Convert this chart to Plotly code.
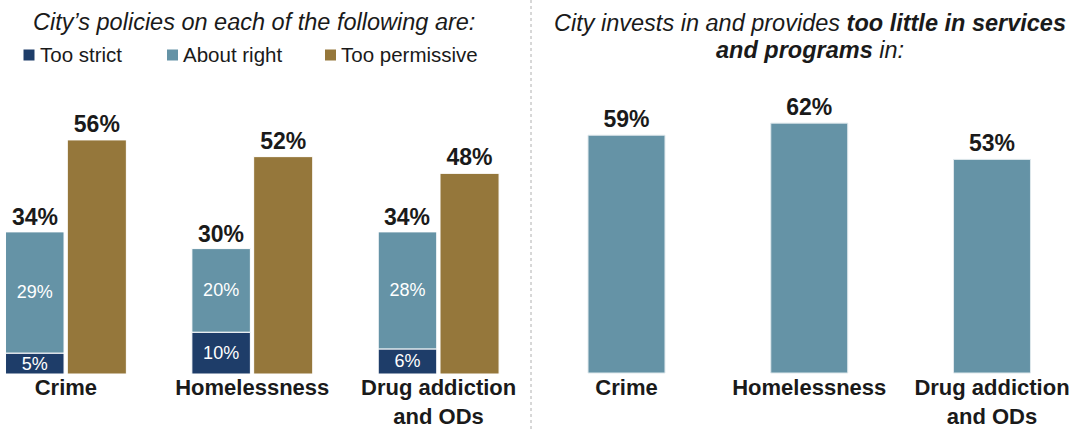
import plotly.graph_objects as go

# ---- data ----
categories = ["Crime", "Homelessness", "Drug addiction<br>and ODs"]
too_strict = [5, 10, 6]
about_right = [29, 20, 28]
too_permissive = [56, 52, 48]
too_little = [59, 62, 53]
legend_labels = ["Too strict", "About right", "Too permissive"]

C_STRICT = "#1E3D69"
C_RIGHT = "#6593A6"
C_PERM = "#95773B"
C_TEXT = "#1a1a1a"
FONT = "Liberation Sans, Arial, sans-serif"
legend_colors = [C_STRICT, C_RIGHT, C_PERM]

W, H = 1086, 429
SPLIT = 531

fig = go.Figure()

w_l = 0.314
off_stack = -0.324
off_perm = 0.0075

fig.add_trace(go.Bar(
    x=categories, y=too_strict, name=legend_labels[0], marker_color=C_STRICT,
    marker_line=dict(color="white", width=1),
    width=w_l, offset=off_stack,
    text=[f"{v}%" for v in too_strict], textposition="inside",
    insidetextanchor="middle", constraintext="none",
    textfont=dict(family=FONT, size=18, color="white"),
    xaxis="x", yaxis="y", hoverinfo="skip"))
fig.add_trace(go.Bar(
    x=categories, y=about_right, base=too_strict, name=legend_labels[1],
    marker_color=C_RIGHT, marker_line=dict(color="white", width=1),
    width=w_l, offset=off_stack,
    text=[f"{v}%" for v in about_right], textposition="inside",
    insidetextanchor="middle", constraintext="none",
    textfont=dict(family=FONT, size=18, color="white"),
    xaxis="x", yaxis="y", hoverinfo="skip"))
fig.add_trace(go.Bar(
    x=categories, y=too_permissive, name=legend_labels[2],
    marker_color=C_PERM, marker_line=dict(color="white", width=1),
    width=w_l + 0.003, offset=off_perm,
    text=[f"{v}%" for v in too_permissive], textposition="outside",
    constraintext="none", cliponaxis=False,
    textfont=dict(family=FONT, size=23, color=C_TEXT, weight="bold"),
    xaxis="x", yaxis="y", hoverinfo="skip"))

fig.add_trace(go.Bar(
    x=categories, y=too_little, name="Too little",
    marker_color=C_RIGHT, marker_line=dict(color="#dfe8ec", width=1),
    width=0.421,
    text=[f"{v}%" for v in too_little], textposition="outside",
    constraintext="none", cliponaxis=False,
    textfont=dict(family=FONT, size=23, color=C_TEXT, weight="bold"),
    xaxis="x2", yaxis="y2", hoverinfo="skip"))

annotations = []
# totals above stacked bars
for i, (s, r) in enumerate(zip(too_strict, about_right)):
    annotations.append(dict(
        x=i + off_stack + w_l / 2, y=s + r, xref="x", yref="y",
        text=f"{s + r}%", showarrow=False, yanchor="bottom", yshift=0,
        font=dict(family=FONT, size=23, color=C_TEXT, weight="bold")))

annotations.append(dict(
    x=254 / W, y=1 - 22 / H, xref="paper", yref="paper",
    text="<i>City’s policies on each of the following are:</i>",
    showarrow=False, xanchor="center", yanchor="middle",
    font=dict(family=FONT, size=23.5, color=C_TEXT)))
annotations.append(dict(
    x=810 / W, y=1 - 23 / H, xref="paper", yref="paper",
    text="<i>City invests in and provides <b>too little in services</b></i>",
    showarrow=False, xanchor="center", yanchor="middle",
    font=dict(family=FONT, size=23.5, color=C_TEXT)))
annotations.append(dict(
    x=810 / W, y=1 - 50 / H, xref="paper", yref="paper",
    text="<i><b>and programs</b> in:</i>",
    showarrow=False, xanchor="center", yanchor="middle",
    font=dict(family=FONT, size=23.5, color=C_TEXT)))

shapes = [dict(type="line", xref="paper", yref="paper",
               x0=SPLIT / W, x1=SPLIT / W, y0=0, y1=1,
               line=dict(color="#b0b0b0", width=1, dash="3px,3px"))]

# legend key (drawn manually to match the reference spacing)
legend_x = [23.5, 167, 325]
sq = 11
legend_yc = 55
for lx, lab, col in zip(legend_x, legend_labels, legend_colors):
    shapes.append(dict(type="rect", xref="paper", yref="paper",
                       x0=lx / W, x1=(lx + sq) / W,
                       y0=1 - (legend_yc + sq / 2) / H, y1=1 - (legend_yc - sq / 2) / H,
                       fillcolor=col, line=dict(width=0)))
    annotations.append(dict(
        x=(lx + sq + 3) / W, y=1 - legend_yc / H, xref="paper", yref="paper",
        text=lab, showarrow=False, xanchor="left", yanchor="middle",
        font=dict(family=FONT, size=20.5, color=C_TEXT)))

base_l = 374
ppu_l = 4.18
base_r = 373
ppu_r = 4.03
label_line = 372

ax_common = dict(showgrid=False, zeroline=False, showline=False, ticks="",
                 tickfont=dict(family=FONT, size=22, color=C_TEXT, weight="bold"),
                 type="category", fixedrange=True, ticklabelstandoff=0,
                 automargin=False)

fig.update_layout(
    width=W, height=H, margin=dict(l=0, r=0, t=0, b=0, autoexpand=False),
    paper_bgcolor="white", plot_bgcolor="white",
    barmode="overlay",
    font=dict(family=FONT, color=C_TEXT),
    xaxis=dict(domain=[0, SPLIT / W], range=[-65.9 / 186.35, (SPLIT - 65.9) / 186.35],
               anchor="free", position=(H - label_line) / H, **ax_common),
    yaxis=dict(domain=[0, 1], range=[-(H - base_l) / ppu_l, base_l / ppu_l],
               visible=False, fixedrange=True, automargin=False),
    xaxis2=dict(domain=[SPLIT / W, 1],
                range=[-(626.5 - SPLIT) / 182.75, (W - 626.5) / 182.75],
                anchor="free", position=(H - label_line) / H, **ax_common),
    yaxis2=dict(domain=[0, 1], range=[-(H - base_r) / ppu_r, base_r / ppu_r],
                visible=False, anchor="x2", fixedrange=True, automargin=False),
    showlegend=False,
    annotations=annotations, shapes=shapes,
)

fig.write_html("out.html", config={"displayModeBar": False})
